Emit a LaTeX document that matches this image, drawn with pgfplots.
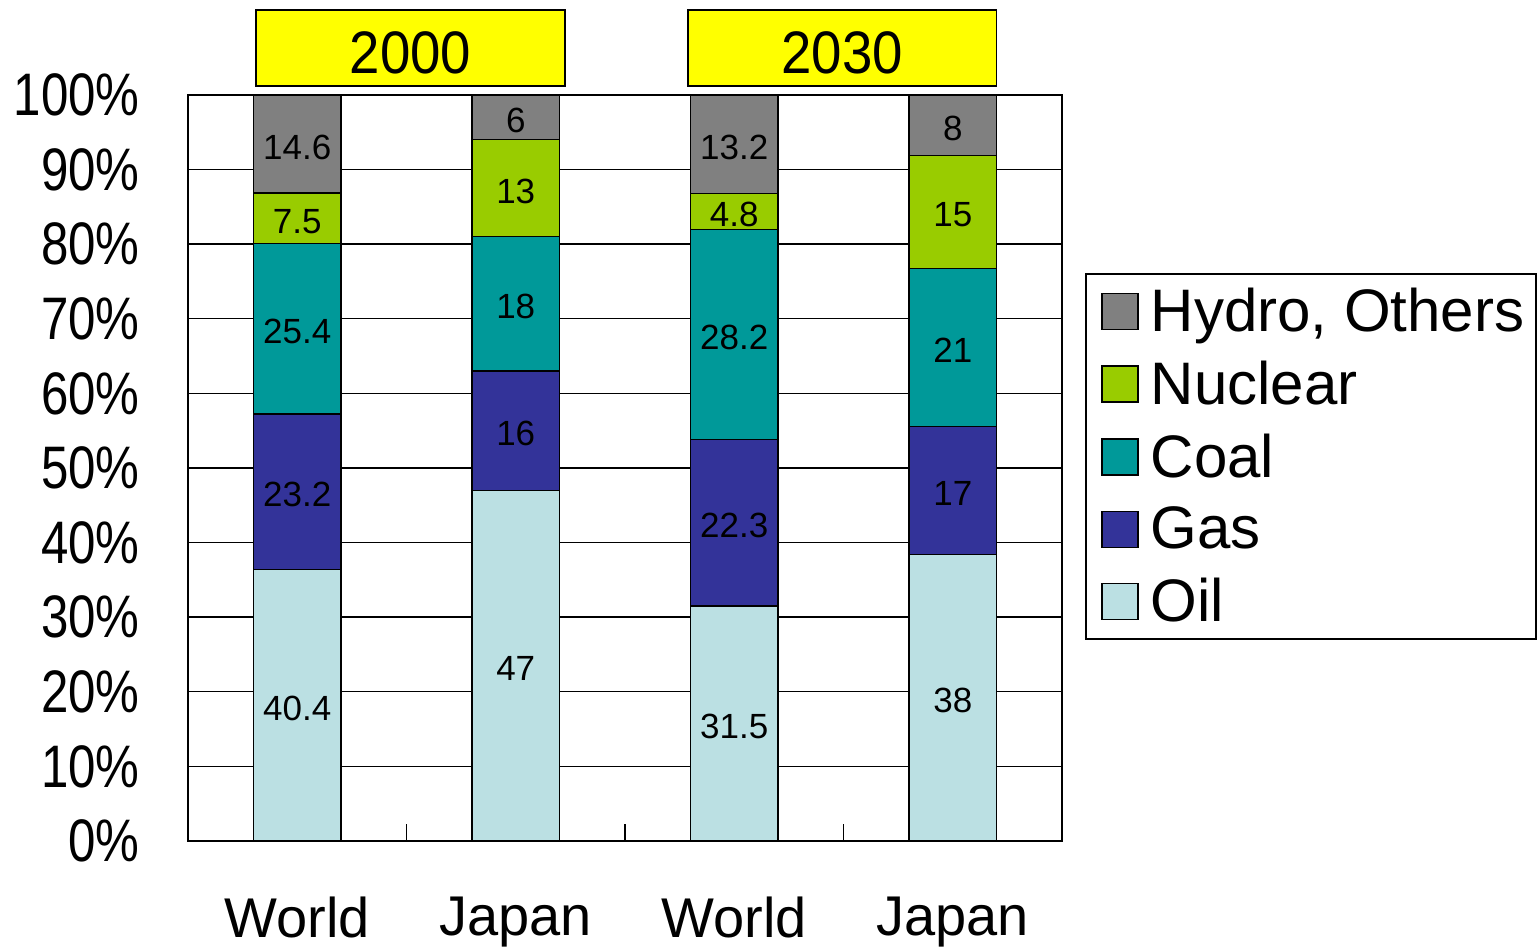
\documentclass[border=0pt]{standalone}
\usepackage{fontspec}
\setmainfont{Liberation Sans}
\usepackage{pgfplots}
\usepackage{pgfplotstable}
\pgfplotsset{compat=1.18}
\definecolor{hydroc}{HTML}{808080}
\definecolor{nucc}{HTML}{99CC00}
\definecolor{coalc}{HTML}{009999}
\definecolor{gasc}{HTML}{333399}
\definecolor{oilc}{HTML}{BBE0E3}
\definecolor{yel}{HTML}{FFFF00}
\pgfplotstableread{
x oil gas coal nuclear hydro
0 40.4 23.2 25.4 7.5 14.6
1 47 16 18 13 6
2 31.5 22.3 28.2 4.8 13.2
3 38 17 21 15 8
}\energy
\newcommand{\tot}{(\thisrow{oil}+\thisrow{gas}+\thisrow{coal}+\thisrow{nuclear}+\thisrow{hydro})}
\pgfplotsset{
  common/.style={scale only axis, width=437pt, height=373pt, xmin=-0.5, xmax=3.5, ymin=0, ymax=100, at={(0,0)}, anchor=south west},
  sq/.style={legend image code/.code={\path[draw=none,fill=none] (0pt,0pt) -- (26.5pt,0pt);\draw[##1,draw=black,line width=0.8pt] (4pt,-9pt) rectangle (22pt,9pt);}},
}
\begin{document}
\begin{tikzpicture}
\begin{axis}[common, name=main, ybar stacked, bar width=0.4, clip=false,
  axis line style={line width=1pt},
  ymajorgrids, grid style={black, line width=0.7pt},
  ytick={0,10,...,100},
  yticklabels={0\%,10\%,20\%,30\%,40\%,50\%,60\%,70\%,80\%,90\%,100\%},
  xtick={0.5,1.5,2.5}, xticklabels={}, xtick pos=left, ytick pos=left,
  major tick length=8.5pt, tick style={black, line width=0.7pt},
  extra x ticks={0,1,2,3}, extra x tick labels={World,Japan,World,Japan},
  extra x tick style={major tick length=0pt},
  xticklabel style={font=\fontsize{28}{28}\selectfont, yshift=-24.5pt},
  yticklabel style={font=\fontsize{30}{30}\selectfont, inner sep=0pt, xshift=-24pt, xscale=0.82},
  legend style={at={(1.0263,0.761)}, anchor=north west, draw=black, line width=0.8pt,
    font=\fontsize{30}{30}\selectfont, inner xsep=4pt, inner ysep=5pt, row sep=9.25pt,
    cells={anchor=west}},
  reverse legend,
]
\addplot[sq, fill=oilc, draw=black, line width=0.7pt] table[x=x, y expr=\thisrow{oil}/\tot*100] {\energy};
\addlegendentry{Oil}
\addplot[sq, fill=gasc, draw=black, line width=0.7pt] table[x=x, y expr=\thisrow{gas}/\tot*100] {\energy};
\addlegendentry{Gas}
\addplot[sq, fill=coalc, draw=black, line width=0.7pt] table[x=x, y expr=\thisrow{coal}/\tot*100] {\energy};
\addlegendentry{Coal}
\addplot[sq, fill=nucc, draw=black, line width=0.7pt] table[x=x, y expr=\thisrow{nuclear}/\tot*100] {\energy};
\addlegendentry{Nuclear}
\addplot[sq, fill=hydroc, draw=black, line width=0.7pt] table[x=x, y expr=\thisrow{hydro}/\tot*100] {\energy};
\addlegendentry{Hydro, Others}
\node[draw=black, fill=yel, line width=0.8pt, minimum width=154.4pt, minimum height=38pt, inner sep=0pt,
  text height=26pt, text depth=0pt,
  font=\fontsize{30}{30}\selectfont] at (axis cs:0.518,106.3) {\scalebox{0.91}[1]{2000}};
\node[draw=black, fill=yel, line width=0.8pt, minimum width=154.4pt, minimum height=38pt, inner sep=0pt,
  text height=26pt, text depth=0pt,
  font=\fontsize{30}{30}\selectfont] at (axis cs:2.494,106.3) {\scalebox{0.91}[1]{2030}};
\end{axis}
\begin{axis}[common, axis lines=none,
  nodes near coords, point meta=explicit symbolic,
  every node near coord/.style={anchor=center, yshift=-1.5pt, font=\fontsize{17.5}{17.5}\selectfont, text=black}]
\addplot[draw=none, mark=none] table[x=x, y expr=(\thisrow{oil}/2)/\tot*100, meta=oil] {\energy};
\addplot[draw=none, mark=none] table[x=x, y expr=(\thisrow{oil}+\thisrow{gas}/2)/\tot*100, meta=gas] {\energy};
\addplot[draw=none, mark=none] table[x=x, y expr=(\thisrow{oil}+\thisrow{gas}+\thisrow{coal}/2)/\tot*100, meta=coal] {\energy};
\addplot[draw=none, mark=none] table[x=x, y expr=(\thisrow{oil}+\thisrow{gas}+\thisrow{coal}+\thisrow{nuclear}/2)/\tot*100, meta=nuclear] {\energy};
\addplot[draw=none, mark=none] table[x=x, y expr=(\thisrow{oil}+\thisrow{gas}+\thisrow{coal}+\thisrow{nuclear}+\thisrow{hydro}/2)/\tot*100, meta=hydro] {\energy};
\end{axis}
\pgfresetboundingbox
\path[use as bounding box] ([shift={(-94pt,-55pt)}]main.south west) rectangle ([shift={(237.5pt,47.5pt)}]main.north east);
\end{tikzpicture}
\end{document}
